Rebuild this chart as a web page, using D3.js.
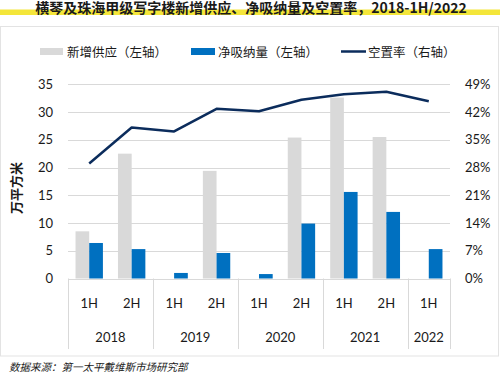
<!DOCTYPE html>
<html><head><meta charset="utf-8">
<script src="https://cdn.jsdelivr.net/npm/d3@7"></script>
<style>
html,body{margin:0;padding:0;background:#fff;}
svg{display:block;}
text{font-family:Lato,"Noto Sans CJK SC",sans-serif;fill:#1a1a1a;}
</style></head>
<body>
<svg id="chart" width="500" height="373"></svg>
<script>
const halves = ["1H","2H","1H","2H","1H","2H","1H","2H","1H"];
const years = ["2018","2018","2019","2019","2020","2020","2021","2021","2022"];
const yearGroups = ["2018","2019","2020","2021","2022"];
const supply = [8.5, 22.5, 0, 19.4, 0, 25.4, 32.6, 25.5, 0];
const absorption = [6.4, 5.3, 1.0, 4.6, 0.8, 9.9, 15.6, 12.0, 5.3];
const vacancy = [0.290, 0.381, 0.371, 0.428, 0.422, 0.451, 0.465, 0.471, 0.447];
const leftTicks = [0,5,10,15,20,25,30,35];
const rightTicks = [0,0.07,0.14,0.21,0.28,0.35,0.42,0.49];
const title = "横琴及珠海甲级写字楼新增供应、净吸纳量及空置率，2018-1H/2022";
const legendLabels = ["新增供应（左轴）","净吸纳量（左轴）","空置率（右轴）"];
const yTitle = "万平方米";
const source = "数据来源：第一太平戴维斯市场研究部";

const svg = d3.select("#chart");
const L = 68, R = 450, T = 84.3, B = 278.5;
const idx = d3.range(halves.length);
const x = d3.scaleBand().domain(idx).range([L, R]).padding(0);
const sub = d3.scaleBand().domain(["s","a"]).range([0, x.bandwidth()]).paddingInner(0).paddingOuter(0.55);
const y = d3.scaleLinear().domain([0,35]).range([B, T]);
const y2 = d3.scaleLinear().domain([0,0.49]).range([B, T]);

// frame
svg.append("rect").attr("x",0.5).attr("y",26.5).attr("width",498).attr("height",329.5)
  .attr("fill","none").attr("stroke","#e3e3e3").attr("stroke-width",1);

// title with highlight
svg.append("rect").attr("x",0).attr("y",9.5).attr("width",500).attr("height",5.5).attr("fill","#f4e63a");
svg.append("text").attr("x",251).attr("y",12.5).attr("text-anchor","middle")
  .attr("font-size",14).attr("font-weight","bold").style("font-family","'Noto Sans CJK SC',sans-serif").text(title);

// legend
const lg = svg.append("g");
lg.append("rect").attr("x",40).attr("y",48).attr("width",23).attr("height",7).attr("fill","#d9d9d9");
lg.append("rect").attr("x",191).attr("y",48).attr("width",24).attr("height",7).attr("fill","#0070c0");
lg.append("line").attr("x1",341).attr("x2",366).attr("y1",51.5).attr("y2",51.5).attr("stroke","#0b2c5c").attr("stroke-width",2.5);
[[67,0],[218,1],[368,2]].forEach(([lx,i])=>{
  lg.append("text").attr("x",lx).attr("y",56.5).attr("font-size",12.5)
    .style("font-family","'Noto Sans CJK SC',sans-serif").text(legendLabels[i]);
});

// gridlines
svg.append("g").selectAll("line").data(leftTicks).join("line")
  .attr("x1",L).attr("x2",R).attr("y1",d=>Math.round(y(d))+0.5).attr("y2",d=>Math.round(y(d))+0.5)
  .attr("stroke","#d9d9d9").attr("stroke-width",1);

// left axis labels
const yl = d3.axisLeft(y).tickValues(leftTicks).tickSize(0).tickPadding(0);
const ga = svg.append("g").attr("transform",`translate(53,0)`).call(yl);
ga.select(".domain").remove();
ga.selectAll("text").attr("font-size",13).style("font-family","Lato,sans-serif").attr("fill","#1a1a1a");

const yr = d3.axisRight(y2).tickValues(rightTicks).tickSize(0).tickPadding(0).tickFormat(d=>Math.round(d*100)+"%");
const gb = svg.append("g").attr("transform",`translate(465,0)`).call(yr);
gb.select(".domain").remove();
gb.selectAll("text").attr("font-size",13).style("font-family","Lato,sans-serif").attr("fill","#1a1a1a");

// y title
svg.append("text").attr("transform","translate(21,188) rotate(-90)").attr("text-anchor","middle")
  .attr("font-size",13).attr("font-weight","bold").style("font-family","'Noto Sans CJK SC',sans-serif").text(yTitle);

// bars
svg.append("g").selectAll("rect").data(idx.filter(i=>supply[i]>0)).join("rect")
  .attr("x",i=>x(i)+sub("s")).attr("width",sub.bandwidth())
  .attr("y",i=>y(supply[i])).attr("height",i=>B-y(supply[i])).attr("fill","#d9d9d9");
svg.append("g").selectAll("rect").data(idx.filter(i=>absorption[i]>0)).join("rect")
  .attr("x",i=>x(i)+sub("a")).attr("width",sub.bandwidth())
  .attr("y",i=>y(absorption[i])).attr("height",i=>B-y(absorption[i])).attr("fill","#0070c0");

// vacancy line
const line = d3.line().x(i=>x(i)+x.bandwidth()/2).y(i=>y2(vacancy[i]));
svg.append("path").datum(idx).attr("d",line).attr("fill","none")
  .attr("stroke","#0b2c5c").attr("stroke-width",2.5).attr("stroke-linejoin","round");

// x axis categories
svg.append("g").selectAll("text").data(idx).join("text")
  .attr("x",i=>x(i)+x.bandwidth()/2).attr("y",307.5).attr("text-anchor","middle")
  .attr("font-size",13).style("font-family","Lato,sans-serif").text(i=>halves[i]);

// year groups
const groups = yearGroups.map(g=>{
  const ii = idx.filter(i=>years[i]===g);
  return {g, x0:x(ii[0]), x1:x(ii[ii.length-1])+x.bandwidth()};
});
const seps = [L].concat(groups.map(d=>d.x1));
svg.append("g").selectAll("line").data(seps).join("line")
  .attr("x1",d=>Math.round(d)+0.5).attr("x2",d=>Math.round(d)+0.5).attr("y1",B).attr("y2",349)
  .attr("stroke","#d9d9d9").attr("stroke-width",1);
svg.append("g").selectAll("text").data(groups).join("text")
  .attr("x",d=>(d.x0+d.x1)/2).attr("y",341.5).attr("text-anchor","middle")
  .attr("font-size",13).style("font-family","Lato,sans-serif").text(d=>d.g);

// source
svg.append("text").attr("x",9).attr("y",371).attr("font-size",10.5).attr("font-style","italic")
  .attr("fill","#333").style("font-family","'Noto Sans CJK SC',sans-serif").text(source);
</script>
</body></html>
